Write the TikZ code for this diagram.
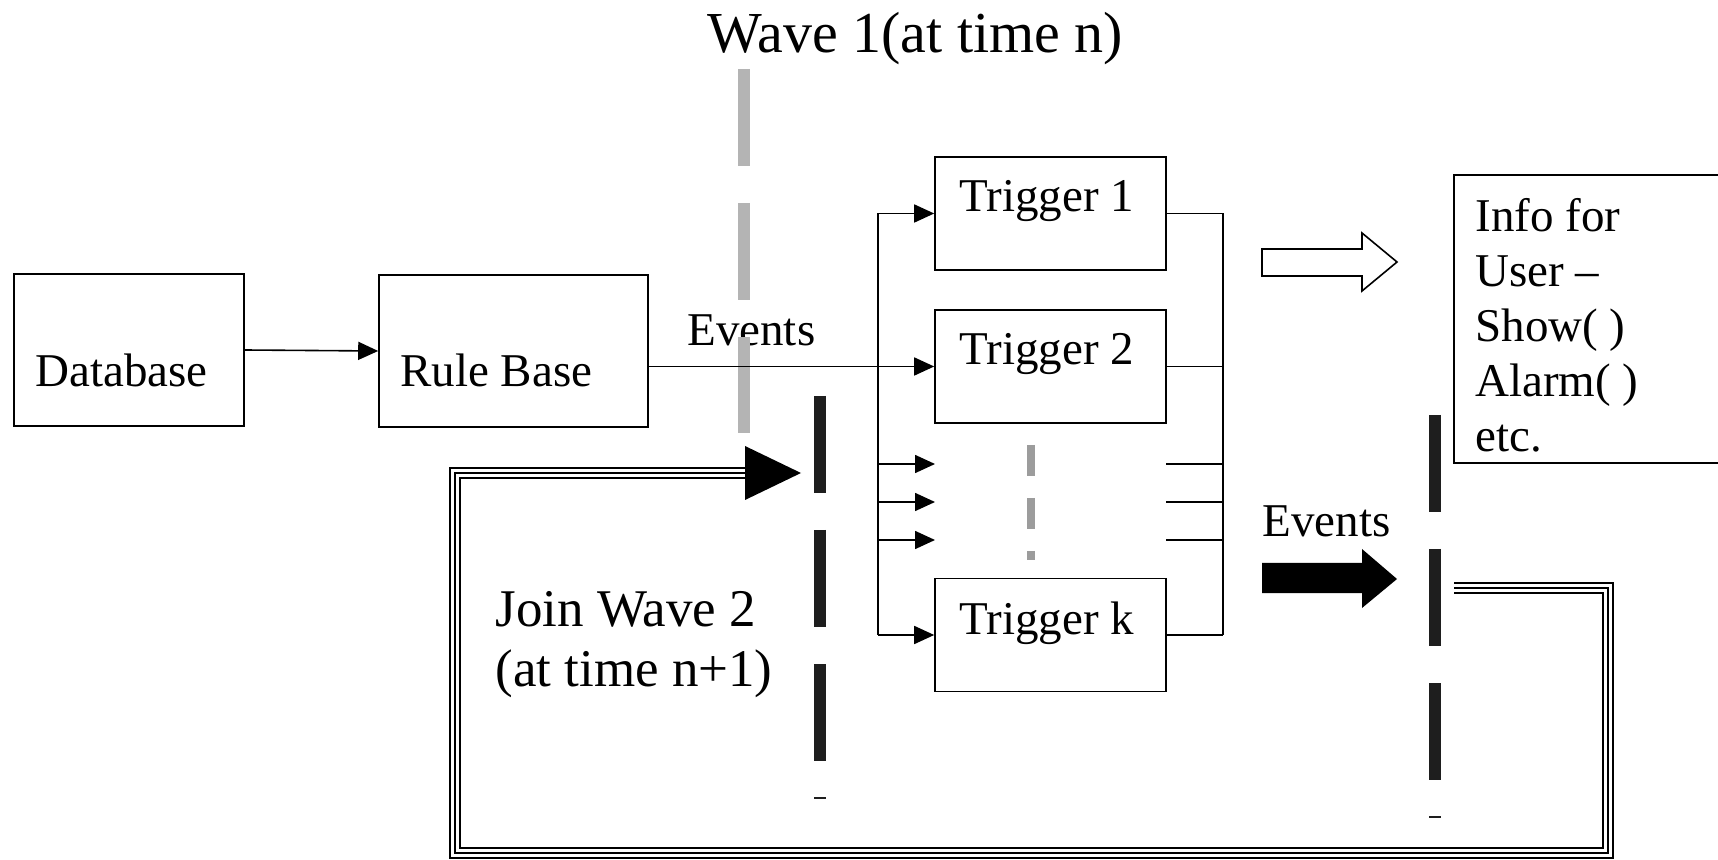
\documentclass[tikz,border=0pt]{standalone}
\usepackage{fontspec}
\setmainfont{Liberation Serif}
\usetikzlibrary{arrows.meta,calc}
\definecolor{wgray}{HTML}{B4B4B4}
\definecolor{mgray}{HTML}{9C9C9C}
\definecolor{wdark}{HTML}{1E1E1E}
\begin{document}
\begin{tikzpicture}[x=0.5pt,y=-0.5pt,
  box/.style={draw,line width=0.8pt,inner sep=0pt,rectangle},
  lbl/.style={inner sep=0pt,anchor=base west,font=\fontsize{23.5pt}{28pt}\selectfont},
  conn/.style={line width=0.8pt},
  arr/.style={conn,-{Triangle[length=10pt,width=9pt]}},
  wavelight/.style={line width=6pt,draw=wgray,dash pattern=on 48.5pt off 18.5pt},
  wavedark/.style={line width=6pt,draw=wdark,dash pattern=on 48.5pt off 18.5pt},
  wavemid/.style={line width=4pt,draw=mgray,dash pattern=on 15.5pt off 11pt},
  tick/.style={line width=1pt,draw=wdark},
  triple/.style={line width=1.2pt,draw=black,
    preaction={draw,line width=4.4pt,white,
      preaction={draw,line width=6.4pt,black}}}
]
\useasboundingbox (0,0) rectangle (1718,860);

% boxes
\node[box,minimum width=115pt,minimum height=76pt] (db) at (129,350) {};
\node[box,minimum width=134.5pt,minimum height=76pt] (rb) at (513.5,351) {};
\node[box,minimum width=115.5pt,minimum height=56.5pt] (t1) at (1050.5,213.5) {};
\node[box,minimum width=115.5pt,minimum height=56.5pt] (t2) at (1050.5,366.5) {};
\node[box,minimum width=115.5pt,minimum height=56.5pt] (tk) at (1050.5,635) {};

% texts
\node[lbl] (dbt) at (35,387) {Database};
\node[lbl] (rbt) at (400,387) {Rule Base};
\node[lbl] (t1t) at (959,212) {Trigger 1};
\node[lbl] (t2t) at (959,365) {Trigger 2};
\node[lbl] (tkt) at (959,634) {Trigger k};
\node[lbl] (ev1) at (687,346) {Events};
\node[lbl] (ev2) at (1262,537) {Events};
\node[lbl,font=\fontsize{29pt}{34pt}\selectfont] (title) at (707,53) {Wave 1(at time n)};
\node[inner sep=0pt,anchor=north west,align=left,font=\fontsize{26.5pt}{30pt}\selectfont] (join) at (495,591) {Join Wave 2\\(at time n+1)};
\node[inner sep=0pt,anchor=north west,align=left,font=\fontsize{23.5pt}{27.5pt}\selectfont] (info) at (1475,198) {Info for\\User –\\Show( )\\Alarm( )\\etc.};

% info frame (continues past the right edge)
\draw[conn] (1718,175) -- (1454,175) -- (1454,463) -- (1718,463);

% wave lines
\draw[wavelight] (744,69) -- (744,433);
\draw[wavedark] (820,396) -- (820,761);
\draw[tick] (814,798) -- (826,798);
\draw[wavedark] (1435,415) -- (1435,780);
\draw[tick] (1429,817) -- (1441,817);
\draw[wavemid] (1031,445) -- (1031,560);

% connectors
\draw[arr] (db.east) -- (rb.west);
\draw[arr] (rb.east |- t2.west) -- (t2.west);

\coordinate (bl) at (878,0);
\coordinate (br) at (1223,0);
\coordinate (d1) at (935,464);
\coordinate (d2) at (935,502);
\coordinate (d3) at (935,540);
\coordinate (e1) at (1166,464);
\coordinate (e2) at (1166,502);
\coordinate (e3) at (1166,540);

\draw[conn] (bl |- t1.west) -- (bl |- tk.west);
\draw[arr] (bl |- t1.west) -- (t1.west);
\draw[arr] (bl |- tk.west) -- (tk.west);
\draw[arr] (bl |- d1) -- (d1);
\draw[arr] (bl |- d2) -- (d2);
\draw[arr] (bl |- d3) -- (d3);

\draw[conn] (br |- t1.east) -- (br |- tk.east);
\draw[conn] (t1.east) -- (br |- t1.east);
\draw[conn] (t2.east) -- (br |- t2.east);
\draw[conn] (tk.east) -- (br |- tk.east);
\draw[conn] (e1) -- (br |- e1);
\draw[conn] (e2) -- (br |- e2);
\draw[conn] (e3) -- (br |- e3);

% block arrows
\draw[conn,fill=white] (1262,249) -- (1362,249) -- (1362,233) -- (1397,262) -- (1362,291) -- (1362,276) -- (1262,276) -- cycle;
\fill[black] (1262,563) -- (1362,563) -- (1362,549) -- (1397,579) -- (1362,608) -- (1362,593) -- (1262,593) -- cycle;

% feedback triple line
\coordinate (fbs) at (1454,588);
\coordinate (fbtip) at (801,473);
\draw[triple] (fbs) -- (1608,588) -- (1608,853) -- (455,853) -- (455,473) -- ($(fbtip)+(-56,0)$);
\fill[black] ($(fbtip)+(-56,-27)$) -- (fbtip) -- ($(fbtip)+(-56,27)$) -- cycle;
\end{tikzpicture}
\end{document}
